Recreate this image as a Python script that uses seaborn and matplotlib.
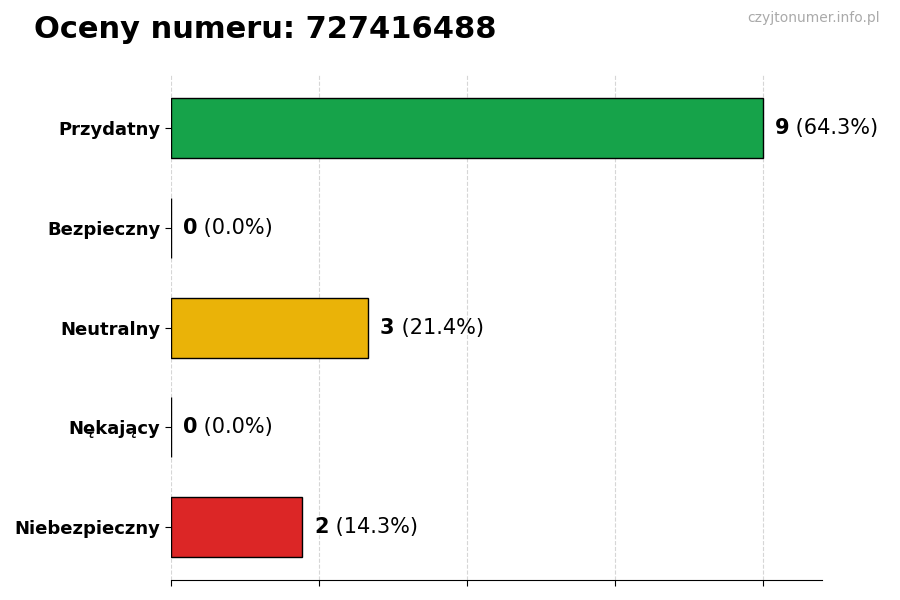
import matplotlib
matplotlib.use("Agg")
import matplotlib.pyplot as plt
import pandas as pd
import seaborn as sns

categories = ["Przydatny", "Bezpieczny", "Neutralny", "Nękający", "Niebezpieczny"]
counts = [9, 0, 3, 0, 2]
colors = ["#16a34a", "#2563eb", "#eab308", "#f97316", "#dc2626"]
phone = "727416488"

total = sum(counts)
df = pd.DataFrame({"kategoria": categories, "liczba": counts})

sns.set_style("white")
plt.rcParams["font.family"] = ["DejaVu Sans"]
plt.rcParams["text.color"] = "black"
plt.rcParams["ytick.color"] = "black"
plt.rcParams["xtick.color"] = "black"

fig = plt.figure(figsize=(9, 6), dpi=100)
ax = fig.add_axes([0.19, 0.033, 0.723, 0.842])

sns.barplot(data=df, x="liczba", y="kategoria", hue="kategoria", palette=colors,
            orient="h", width=0.6, edgecolor="black", linewidth=1,
            legend=False, ax=ax, saturation=1)

xmax = max(counts) * 1.1
ax.set_xlim(0, xmax)
ax.set_ylim(len(categories) - 1 + 0.53, -0.53)
ax.set_xticks([0, 2.25, 4.5, 6.75, 9])
ax.set_xticklabels([])
ax.set_xlabel("")
ax.set_ylabel("")
ax.grid(axis="x", linestyle="--", color="#cccccc", alpha=0.8)
ax.set_axisbelow(True)
for s in ["top", "right", "left"]:
    ax.spines[s].set_visible(False)
ax.spines["bottom"].set_color("black")
ax.tick_params(axis="both", which="both", length=4, color="black", left=True, bottom=True)
for lbl in ax.get_yticklabels():
    lbl.set_fontweight("bold")
    lbl.set_fontsize(13)
    lbl.set_color("black")

for i, c in enumerate(counts):
    pct = c / total * 100
    t = ax.text(c + max(counts) * 0.02, i, str(c), fontsize=15, fontweight="bold",
                va="center", ha="left", color="black")
    ax.annotate(f" ({pct:.1f}%)", xy=(1, 0.5), xycoords=t, fontsize=15,
                va="center", ha="left", color="black")

fig.text(0.038, 0.95, f"Oceny numeru: {phone}", fontsize=22, fontweight="bold",
         va="center", ha="left", color="black")
fig.text(0.978, 0.97, "czyjtonumer.info.pl", fontsize=10, color="#aaaaaa",
         va="center", ha="right")

fig.savefig("out.png", dpi=100)
